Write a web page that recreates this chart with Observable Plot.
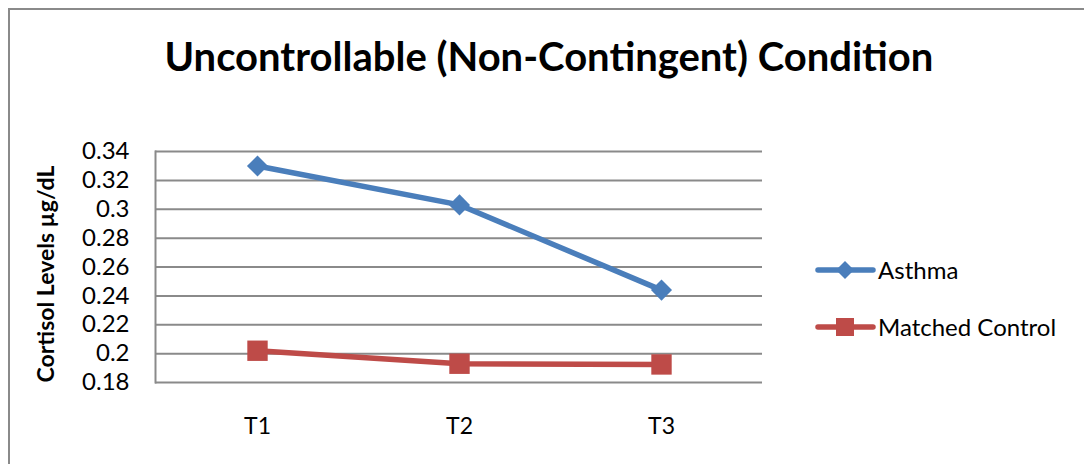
<!DOCTYPE html>
<html><head><meta charset="utf-8">
<script src="https://cdn.jsdelivr.net/npm/d3@7"></script>
<script src="https://cdn.jsdelivr.net/npm/@observablehq/plot@0.6"></script>
<style>
body{margin:0;background:#fff;}
#chart{position:relative;width:1084px;height:464px;overflow:hidden;font-family:Lato,"Open Sans",sans-serif;}
#frame{position:absolute;left:8px;top:8px;width:1200px;height:600px;border-left:2px solid #8a8a8a;border-top:2px solid #8a8a8a;}
#plot,#overlay{position:absolute;left:0;top:0;}
</style></head><body>
<div id="chart"><div id="frame"></div><div id="plot"></div><svg id="overlay" width="1084" height="464"></svg></div>
<script>
const title = "Uncontrollable (Non-Contingent) Condition";
const yLabel = "Cortisol Levels µg/dL";
const categories = ["T1", "T2", "T3"];
const asthma = [0.330, 0.303, 0.244];
const matchedControl = [0.202, 0.193, 0.1925];
const seriesNames = ["Asthma", "Matched Control"];
const seriesColors = ["#4A7EBB", "#BE4B48"];
const seriesSymbols = ["diamond2", "square"];
const yTicks = [0.18, 0.20, 0.22, 0.24, 0.26, 0.28, 0.30, 0.32, 0.34];
const yTickLabels = ["0.18", "0.2", "0.22", "0.24", "0.26", "0.28", "0.3", "0.32", "0.34"];

const rows = [];
[asthma, matchedControl].forEach((vals, s) => {
  vals.forEach((v, i) => rows.push({series: seriesNames[s], cat: categories[i], value: v}));
});

const font = "Lato, 'Open Sans', sans-serif";
const chart = Plot.plot({
  width: 1084, height: 464,
  marginLeft: 155, marginRight: 322, marginTop: 151, marginBottom: 82,
  style: {fontFamily: font, background: "transparent", overflow: "visible"},
  x: {type: "band", domain: categories, padding: 0, axis: null},
  y: {domain: [0.18, 0.34], axis: null},
  color: {domain: seriesNames, range: seriesColors},
  symbol: {domain: seriesNames, range: seriesSymbols},
  marks: [
    Plot.ruleY(yTicks, {stroke: "#8a8a8a", strokeWidth: 2}),
    Plot.frame({anchor: "left", stroke: "#8a8a8a", strokeWidth: 2}),
    Plot.axisY(yTicks, {tickSize: 0, tickPadding: 26, fontSize: 24, fill: "#000",
      tickFormat: (d, i) => yTickLabels[i], label: null}),
    Plot.axisX(categories, {tickSize: 0, tickPadding: 35, fontSize: 23, fill: "#000", label: null}),
    Plot.text([yLabel], {frameAnchor: "left", textAnchor: "middle", rotate: -90, dx: -109, dy: 7,
      fontSize: 23, fontWeight: "bold", fill: "#000", text: d => d}),
    Plot.line(rows, {x: "cat", y: "value", z: "series", stroke: "series", strokeWidth: 5.5}),
    Plot.dot(rows.filter(d => d.series === seriesNames[0]), {x: "cat", y: "value", fill: "series",
      symbol: "series", r: 9.5, stroke: null}),
    Plot.dot(rows.filter(d => d.series === seriesNames[1]), {x: "cat", y: "value", fill: "series",
      symbol: "series", r: 11.5, stroke: null})
  ]
});
document.getElementById("plot").appendChild(chart);

const ov = d3.select("#overlay");
ov.append("text").attr("x", 549).attr("y", 71).attr("text-anchor", "middle")
  .attr("font-family", font).attr("font-weight", "bold").attr("font-size", 40).attr("fill", "#000")
  .text(title);

const legendY = [270, 327];
const legendSizes = [Math.pow(9 / 0.62625, 2), 18 * 18];
seriesNames.forEach((name, i) => {
  const g = ov.append("g").attr("transform", `translate(0,${legendY[i]})`);
  g.append("line").attr("x1", 818).attr("x2", 873).attr("y1", 0).attr("y2", 0)
    .attr("stroke", seriesColors[i]).attr("stroke-width", 5.5).attr("stroke-linecap", "round");
  g.append("path").attr("transform", "translate(845,0)")
    .attr("d", d3.symbol(i === 0 ? d3.symbolDiamond2 : d3.symbolSquare, legendSizes[i])())
    .attr("fill", seriesColors[i]);
  g.append("text").attr("x", 878).attr("y", 0).attr("dy", "0.36em")
    .attr("font-family", font).attr("font-size", 24).attr("fill", "#000").text(name);
});
</script>
</body></html>
